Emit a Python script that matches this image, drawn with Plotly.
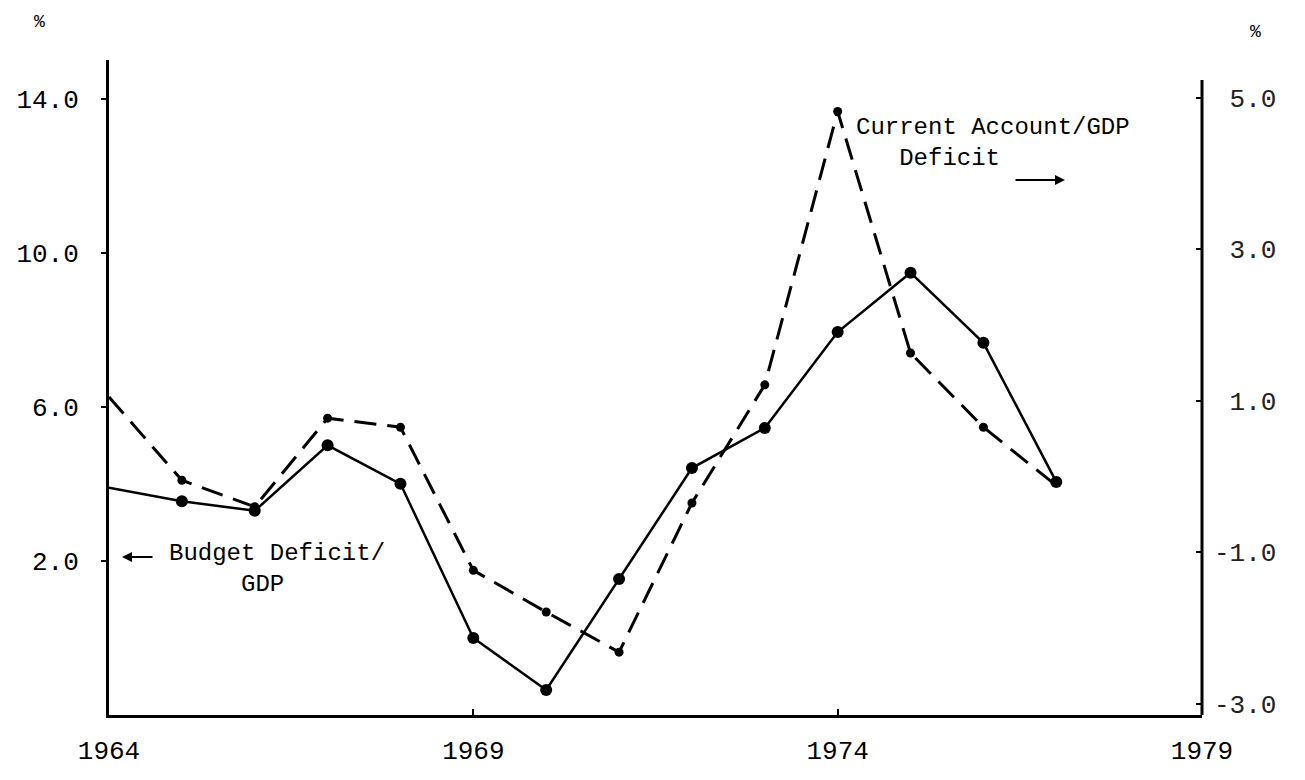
import plotly.graph_objects as go

# Data
years = [1964, 1965, 1966, 1967, 1968, 1969, 1970, 1971, 1972, 1973, 1974, 1975, 1976, 1977]
budget_deficit_gdp = [3.9, 3.55, 3.3, 5.0, 4.0, 0.0, -1.35, 1.53, 4.41, 5.45, 7.94, 9.48, 7.66, 4.05]
current_account_gdp = [1.05, -0.05, -0.40, 0.77, 0.65, -1.24, -1.79, -2.32, -0.35, 1.21, 4.82, 1.63, 0.65, -0.12]

left_ticks = [14.0, 10.0, 6.0, 2.0]
left_ticktext = ["14.0", "10.0", "6.0", "2.0"]
right_ticks = [5.0, 3.0, 1.0, -1.0, -3.0]
right_ticktext = ["\u00a05.0", "\u00a03.0", "\u00a01.0", "-1.0", "-3.0"]
x_ticks = [1964, 1969, 1974, 1979]
x_ticktext = ["1964", "1969", "1974", "1979"]

FONT = "Liberation Mono"
W, H = 1305, 780
OFFX, OFFY = 6, 8  # page offsets
# desired plot area in page pixels: x 107..1200, y 60..715
L = 107 - OFFX
T = 60 - OFFY
R = W - (1200 - OFFX)
B = H - (715 - OFFY)
PW, PH = W - L - R, H - T - B


def px(x):
    return (x - OFFX - L) / PW


def py(y):
    return (H - B - (y - OFFY)) / PH


fig = go.Figure()

# Current account / GDP deficit (right axis), dashed
ca_sizes = [0] + [9] * (len(years) - 2) + [0]
fig.add_trace(go.Scatter(
    x=years, y=current_account_gdp, yaxis="y2", mode="lines+markers",
    line=dict(color="black", width=3, dash="22px,11px"),
    marker=dict(color="black", size=ca_sizes, opacity=1, line=dict(width=0)),
    name="Current Account/GDP Deficit", showlegend=False,
))

# Budget deficit / GDP (left axis), solid
bd_sizes = [0] + [12] * (len(years) - 1)
fig.add_trace(go.Scatter(
    x=years, y=budget_deficit_gdp, mode="lines+markers",
    line=dict(color="black", width=2.5),
    marker=dict(color="black", size=bd_sizes, opacity=1, line=dict(width=0)),
    name="Budget Deficit/GDP", showlegend=False,
))

tf = dict(family=FONT, size=26, color="black")

fig.update_layout(
    width=W, height=H,
    margin=dict(l=L, r=R, t=T, b=B, autoexpand=False),
    paper_bgcolor="white", plot_bgcolor="white",
    xaxis=dict(
        range=[1964, 1979], tickvals=x_ticks, ticktext=x_ticktext, automargin=False,
        showgrid=False, zeroline=False, showline=True, linecolor="black", linewidth=3,
        ticks="inside", ticklen=6, tickwidth=2, tickcolor="black",
        tickfont=tf, ticklabelstandoff=10,
    ),
    yaxis=dict(
        range=[-2, 15], tickvals=left_ticks, ticktext=left_ticktext, automargin=False,
        showgrid=False, zeroline=False, showline=True, linecolor="black", linewidth=3,
        ticks="outside", ticklen=5, tickwidth=2, tickcolor="black",
        tickfont=tf, ticklabelstandoff=17,
    ),
    yaxis2=dict(
        range=[-3.15, 5.5], tickvals=right_ticks, ticktext=right_ticktext,
        overlaying="y", side="right", automargin=False,
        showgrid=False, zeroline=False, showline=False,
        ticks="inside", ticklen=6, tickwidth=2, tickcolor="black",
        tickfont=dict(family=FONT, size=26, color="#222222"), ticklabelstandoff=11,
    ),
    shapes=[
        dict(type="line", xref="paper", yref="paper", x0=1, x1=1, y0=0, y1=py(80),
             line=dict(color="black", width=3)),
    ],
    annotations=[
        dict(text="%", xref="paper", yref="paper", x=px(37), y=py(22),
             showarrow=False, font=dict(family=FONT, size=18, color="black"),
             xanchor="center", yanchor="middle"),
        dict(text="%", xref="paper", yref="paper", x=px(1253), y=py(32),
             showarrow=False, font=dict(family=FONT, size=18, color="black"),
             xanchor="center", yanchor="middle"),
        dict(text="Current Account/GDP<br>\u00a0\u00a0\u00a0Deficit", xref="paper", yref="paper",
             x=px(852), y=py(112), align="left",
             showarrow=False, font=dict(family=FONT, size=24, color="black"),
             xanchor="left", yanchor="top"),
        dict(text="", xref="paper", yref="paper", x=px(1063), y=py(180),
             ax=-51, ay=0, showarrow=True, arrowhead=2, arrowsize=1, arrowwidth=2,
             arrowcolor="black"),
        dict(text="Budget Deficit/<br>\u00a0\u00a0\u00a0\u00a0\u00a0GDP", xref="paper", yref="paper",
             x=px(165), y=py(538), align="left",
             showarrow=False, font=dict(family=FONT, size=24, color="black"),
             xanchor="left", yanchor="top"),
        dict(text="", xref="paper", yref="paper", x=px(120), y=py(557),
             ax=32, ay=0, showarrow=True, arrowhead=2, arrowsize=1, arrowwidth=2,
             arrowcolor="black"),
    ],
)

fig.write_html("out.html")
